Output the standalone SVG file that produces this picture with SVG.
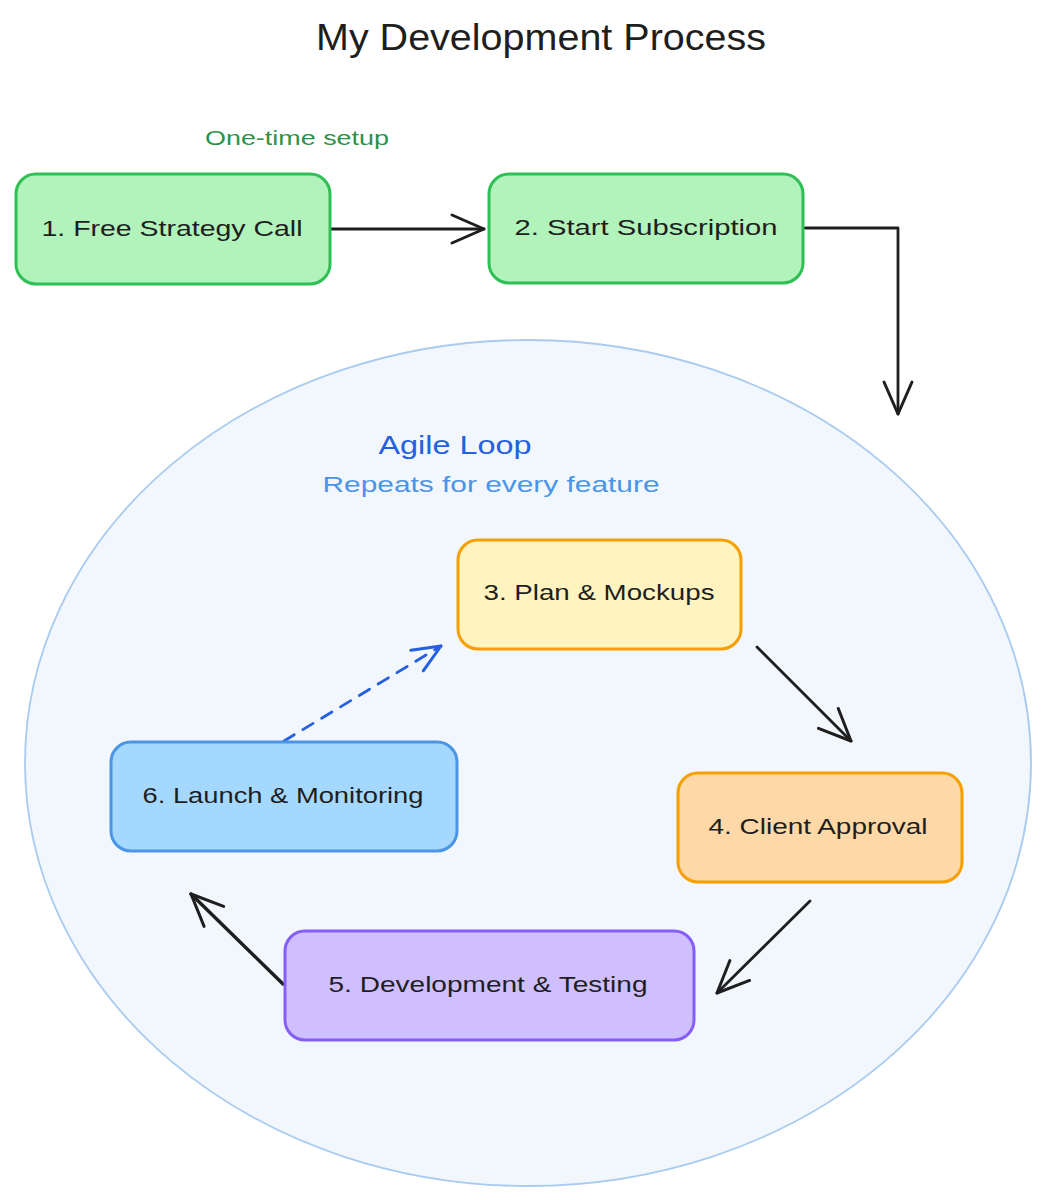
<svg xmlns="http://www.w3.org/2000/svg" width="1046" height="1200" viewBox="0 0 1046 1200">
  <style>
    .lbl { font-family: "Liberation Sans", Arial, sans-serif; font-size: 22px; fill: #1e1e1e; text-anchor: middle; }
    .box { stroke-width: 3; }
    .arrow { fill: none; stroke: #1e1e1e; stroke-width: 2.8; stroke-linecap: round; stroke-linejoin: round; }
  </style>
  <defs>
    <marker id="head" markerUnits="userSpaceOnUse" markerWidth="44" markerHeight="44" viewBox="-36 -22 44 44" refX="0" refY="0" orient="auto">
      <path d="M -32 -14 L 0 0 L -32 14" fill="none" stroke="#1e1e1e" stroke-width="3" stroke-linecap="round" stroke-linejoin="round"/>
    </marker>
    <marker id="headBlue" markerUnits="userSpaceOnUse" markerWidth="44" markerHeight="44" viewBox="-36 -22 44 44" refX="0" refY="0" orient="auto">
      <path d="M -28 -12 L 0 0 L -28 12" fill="none" stroke="#2560e0" stroke-width="3" stroke-linecap="round" stroke-linejoin="round"/>
    </marker>
  </defs>
  <rect width="1046" height="1200" fill="#ffffff"/>

  <g id="title">
    <text x="541" y="50" style="font-family:'Liberation Sans', Arial, sans-serif; font-size:36px; fill:#1e1e1e" text-anchor="middle" textLength="450" lengthAdjust="spacingAndGlyphs">My Development Process</text>
  </g>

  <g id="loop-area">
    <ellipse cx="528" cy="763" rx="503" ry="423" fill="#f2f6fd" stroke="#a9cbf0" stroke-width="1.8"/>
    <text x="455" y="454" style="font-family:'Liberation Sans', Arial, sans-serif; font-size:26px; fill:#2560e0" text-anchor="middle" textLength="153" lengthAdjust="spacingAndGlyphs">Agile Loop</text>
    <text x="491" y="492" style="font-family:'Liberation Sans', Arial, sans-serif; font-size:22px; fill:#4a95e6" text-anchor="middle" textLength="337" lengthAdjust="spacingAndGlyphs">Repeats for every feature</text>
  </g>

  <g id="setup-label">
    <text x="297" y="145" style="font-family:'Liberation Sans', Arial, sans-serif; font-size:20px; fill:#2b9348" text-anchor="middle" textLength="184" lengthAdjust="spacingAndGlyphs">One-time setup</text>
  </g>

  <g id="connectors">
    <path class="arrow" d="M 331 229 L 484 229" marker-end="url(#head)"/>
    <path class="arrow" d="M 805 228 L 898 228 L 898 414" marker-end="url(#head)"/>
    <path class="arrow" d="M 757 647 L 851 741" marker-end="url(#head)"/>
    <path class="arrow" d="M 810 901 L 717 993" marker-end="url(#head)"/>
    <path class="arrow" d="M 283 984 L 191 894" style="stroke-width:3.5" marker-end="url(#head)"/>
    <path class="arrow" d="M 284 741 L 441 646" style="stroke:#2560e0" stroke-dasharray="12 10" marker-end="url(#headBlue)"/>
  </g>

  <g id="node1">
    <rect class="box" x="16" y="174" width="314" height="110" rx="20" fill="#b2f2bb" stroke="#2fbf55"/>
    <text class="lbl" x="172" y="236" textLength="261" lengthAdjust="spacingAndGlyphs">1. Free Strategy Call</text>
  </g>
  <g id="node2">
    <rect class="box" x="489" y="174" width="314" height="109" rx="20" fill="#b2f2bb" stroke="#2fbf55"/>
    <text class="lbl" x="646" y="235" textLength="263" lengthAdjust="spacingAndGlyphs">2. Start Subscription</text>
  </g>
  <g id="node3">
    <rect class="box" x="458" y="540" width="283" height="109" rx="20" fill="#fff3bf" stroke="#f59f00"/>
    <text class="lbl" x="599" y="600" textLength="231" lengthAdjust="spacingAndGlyphs">3. Plan &amp; Mockups</text>
  </g>
  <g id="node4">
    <rect class="box" x="678" y="773" width="284" height="109" rx="20" fill="#ffd8a8" stroke="#f59f00"/>
    <text class="lbl" x="818" y="834" textLength="219" lengthAdjust="spacingAndGlyphs">4. Client Approval</text>
  </g>
  <g id="node5">
    <rect class="box" x="285" y="931" width="409" height="109" rx="20" fill="#d0bfff" stroke="#845ef7"/>
    <text class="lbl" x="488" y="992" textLength="319" lengthAdjust="spacingAndGlyphs">5. Development &amp; Testing</text>
  </g>
  <g id="node6">
    <rect class="box" x="111" y="742" width="346" height="109" rx="20" fill="#a5d8ff" stroke="#4a95e6"/>
    <text class="lbl" x="283" y="803" textLength="281" lengthAdjust="spacingAndGlyphs">6. Launch &amp; Monitoring</text>
  </g>
</svg>
